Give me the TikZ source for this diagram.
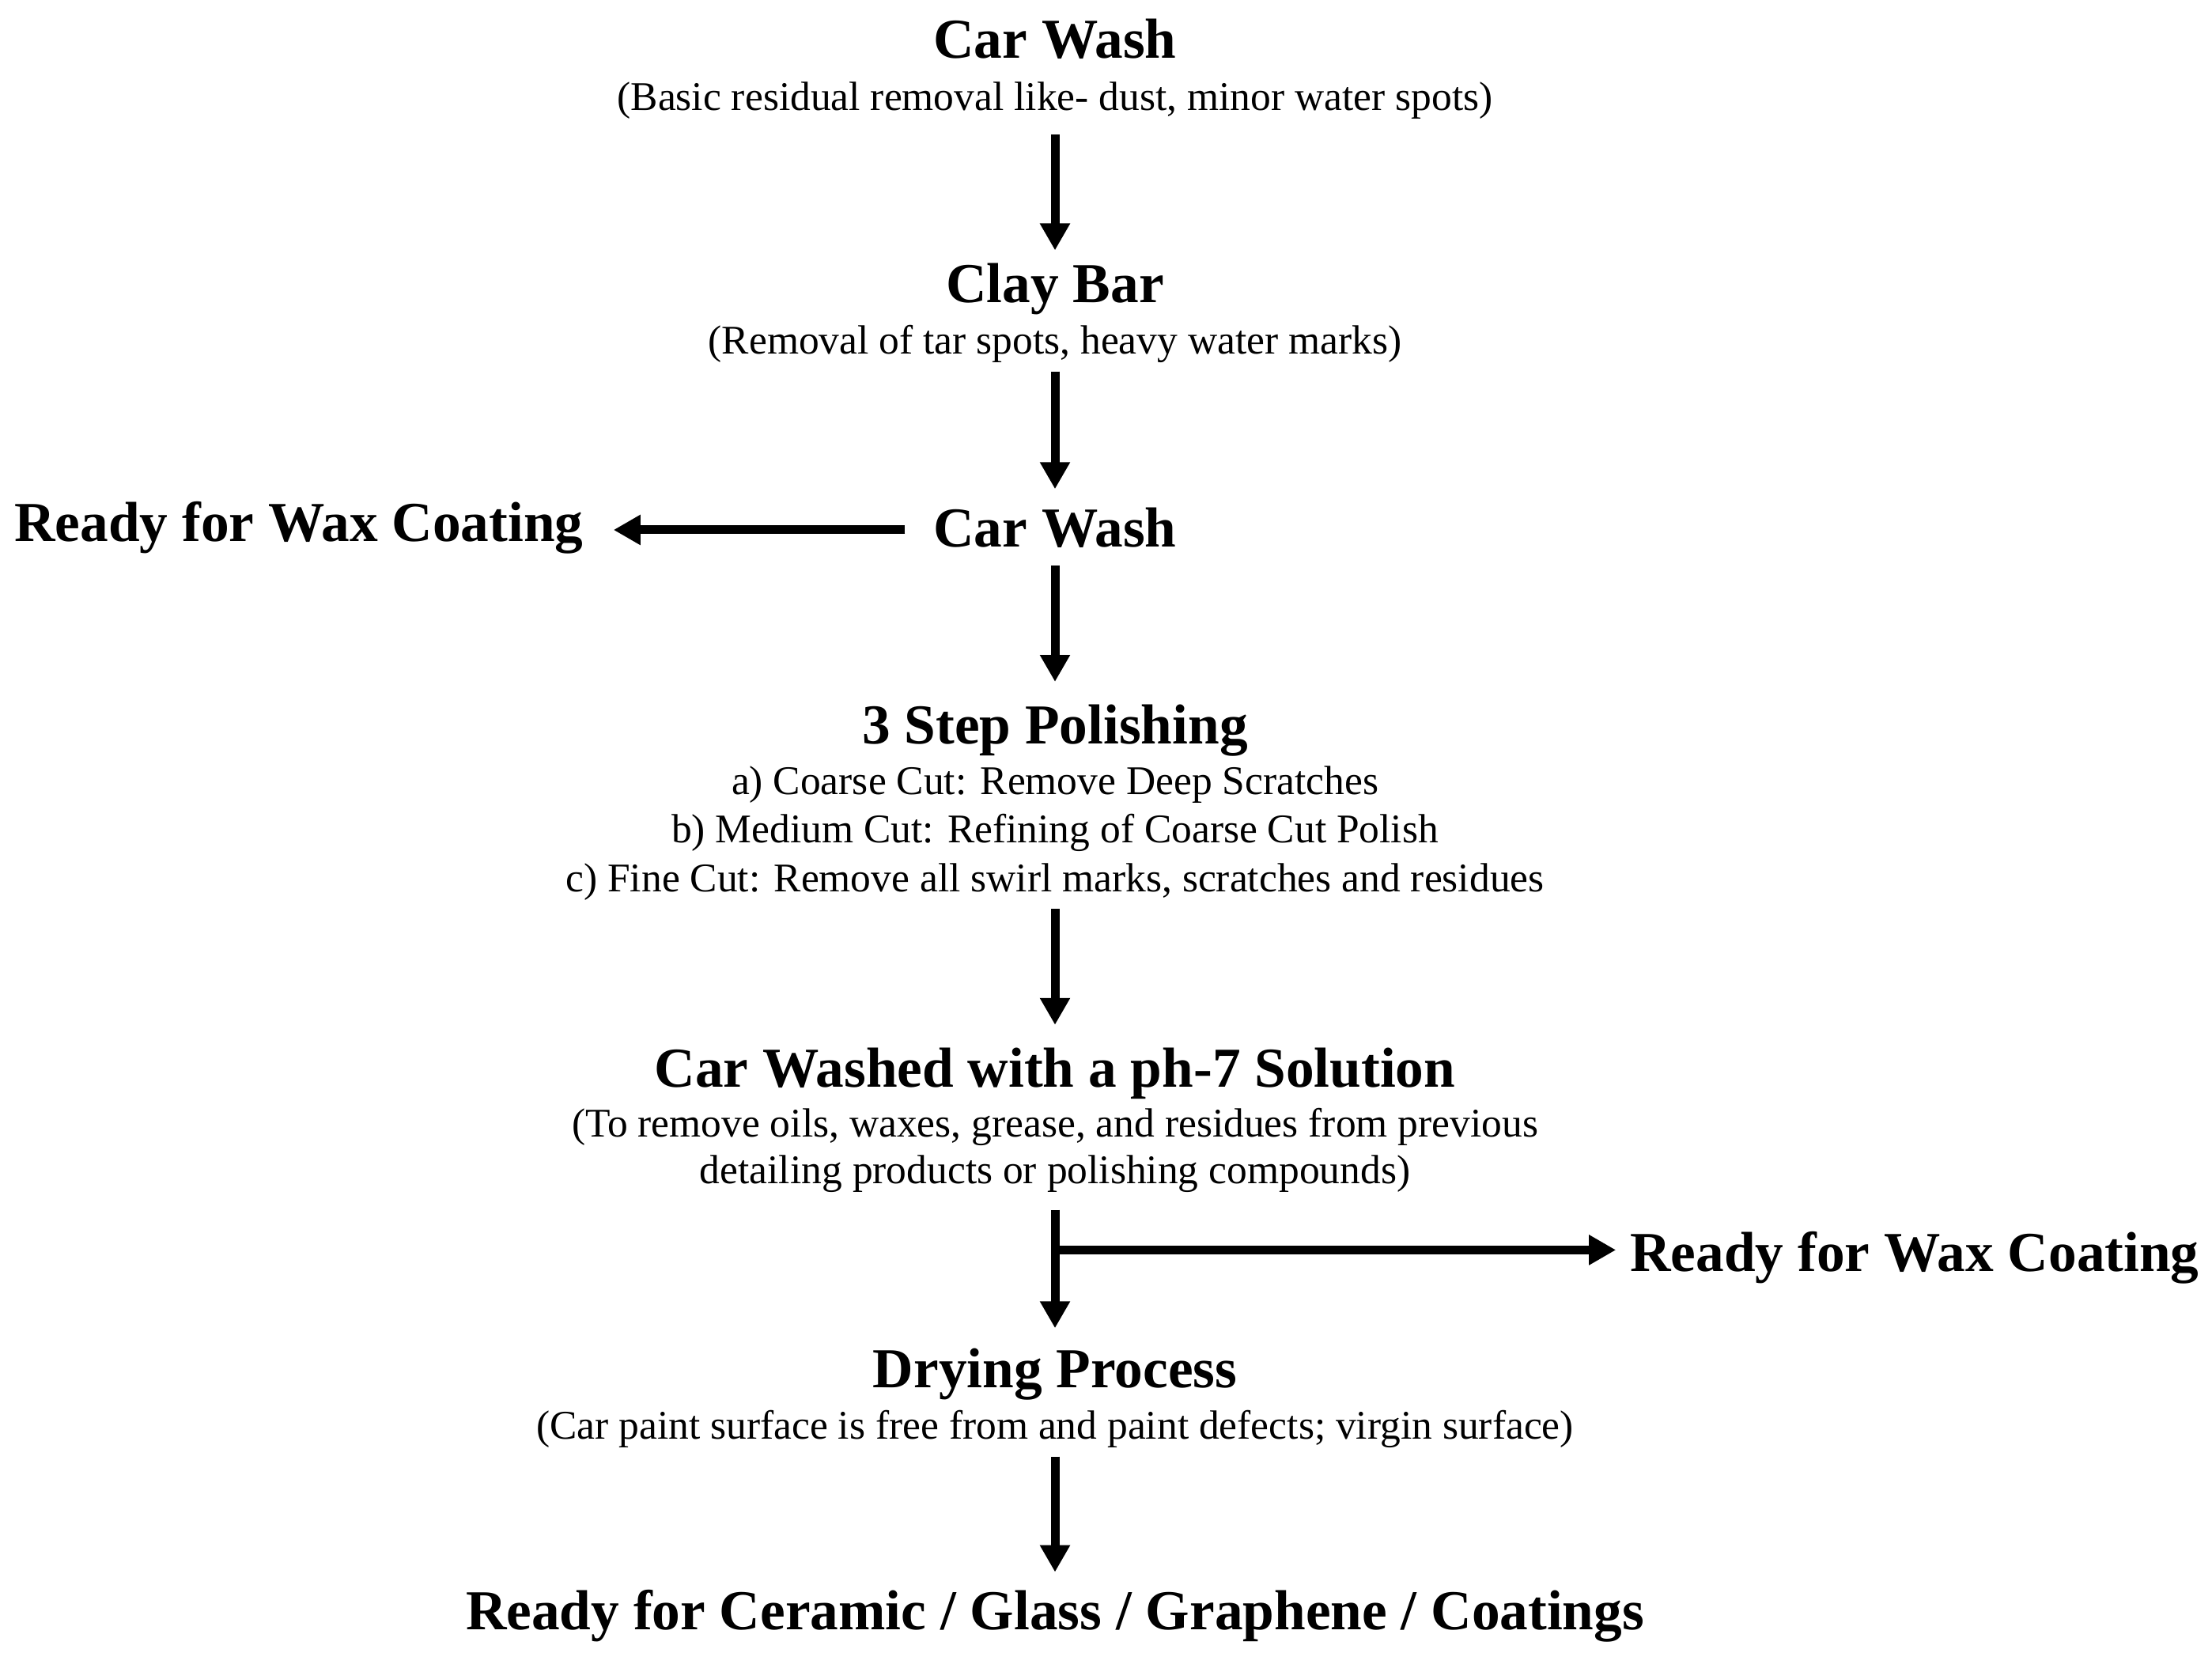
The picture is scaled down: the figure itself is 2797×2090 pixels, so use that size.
\documentclass[tikz,border=0pt]{standalone}
\usepackage{fontspec}
\setmainfont{Liberation Serif}
\usetikzlibrary{arrows.meta}
\begin{document}
\begin{tikzpicture}[x=0.3pt,y=-0.3pt,
  ttl/.style={font=\fontsize{21.4pt}{25pt}\selectfont\bfseries, inner sep=0pt, text height=16.05pt, text depth=5.35pt},
  dsc/.style={font=\fontsize{15.45pt}{18.3pt}\selectfont, inner sep=0pt, text height=11.59pt, text depth=3.86pt},
  dscm/.style={inner sep=0pt, align=center},
  arr/.style={line width=3.3pt, -{Triangle[width=10.8pt,length=10.2pt]}}]
\useasboundingbox (0,0) rectangle (2797,2090);
\node[ttl] (t1) at (1334,56) {Car Wash};
\node[dsc] (s1) at (1334,126.5) {(Basic residual removal like- dust, minor water spots)};
\node[ttl] (t2) at (1334,364.5) {Clay Bar};
\node[dsc] (s2) at (1334,435) {(Removal of tar spots, heavy water marks)};
\node[ttl] (t3) at (1334,674) {Car Wash};
\node[ttl] (rl) at (378,667) {Ready for Wax Coating};
\node[ttl] (t4) at (1334,923) {3 Step Polishing};
\node[dscm, font=\fontsize{15.45pt}{18.45pt}\selectfont] (s4) at (1334,1053.3) {a) Coarse Cut: Remove Deep Scratches\\b) Medium Cut: Refining of Coarse Cut Polish\\c) Fine Cut: Remove all swirl marks, scratches and residues};
\node[ttl] (t5) at (1334,1356.3) {Car Washed with a ph-7 Solution};
\node[dscm, font=\fontsize{15.45pt}{17.7pt}\selectfont] (s5) at (1334,1454.8) {(To remove oils, waxes, grease, and residues from previous\\detailing products or polishing compounds)};
\node[ttl] (rr) at (2421,1590) {Ready for Wax Coating};
\node[ttl] (t7) at (1334,1736.3) {Drying Process};
\node[dsc] (s7) at (1334,1807) {(Car paint surface is free from and paint defects; virgin surface)};
\node[ttl] (t8) at (1334,2043) {Ready for Ceramic / Glass / Graphene / Coatings};
\coordinate (br) at (1334,1580.4);
\draw[arr, shorten <=5.2pt, shorten >=3.5pt] (s1.south) -- (t2.north);
\draw[arr, shorten <=2.5pt, shorten >=5.8pt] (s2.south) -- (t3.north);
\draw[arr, shorten <=10.65pt, shorten >=11.25pt] ([yshift=1.2pt]t3.west) -- ([yshift=1.2pt]t3.west -| rl.east);
\draw[arr, shorten <=1.5pt, shorten >=7.4pt] (t3.south) -- (t4.north);
\draw[arr, shorten <=3.1pt, shorten >=7.25pt] (s4.south) -- (t5.north);
\draw[arr, shorten <=6.3pt, shorten >=6.2pt] (s5.south) -- (t7.north);
\draw[arr, shorten >=5.25pt] (br) -- (br -| rr.west);
\draw[arr, shorten <=2.45pt, shorten >=5.7pt] (s7.south) -- (t8.north);
\end{tikzpicture}
\end{document}
